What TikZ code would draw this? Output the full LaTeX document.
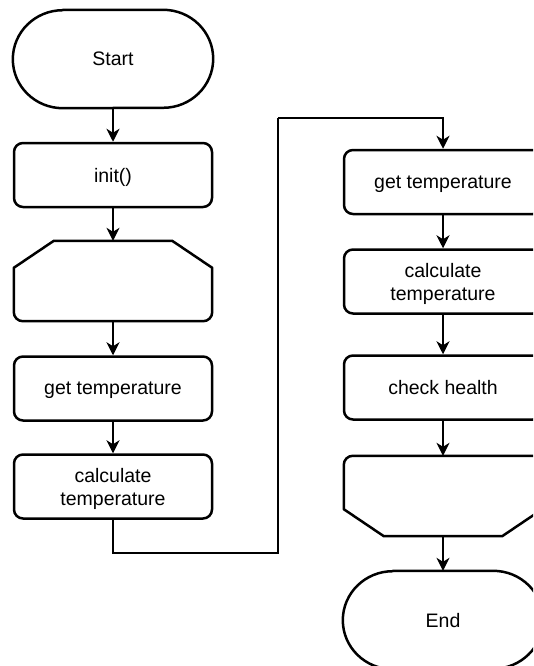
\documentclass[tikz,border=0pt]{standalone}
\usepackage{fontspec}
\setmainfont{Liberation Sans}
\usetikzlibrary{arrows.meta}
\begin{document}
\begin{tikzpicture}[x=1pt,y=-1pt,
  every node/.style={font=\fontsize{19.5}{23}\selectfont, align=center, inner sep=0pt, text depth=0pt},
  proc/.style={draw, line width=2.5pt, rounded corners=9pt, minimum width=198pt, minimum height=64pt},
  framebox/.style={minimum width=198pt, minimum height=80pt},
  termbox/.style={minimum width=200pt, minimum height=98pt},
  outline/.style={line width=2.5pt, line join=round},
  flow/.style={line width=1.4pt, -{Stealth[length=13pt,width=13pt,inset=4pt]}},
]
\useasboundingbox (0,0) rectangle (533,666);
\clip (0,0) rectangle (533,666);

% ---- left column ----
\node[termbox] (start) at (113,59) {Start};
\node[proc] (init) at (113,175) {init()};
\node[framebox] (loopA) at (113,281) {};
\node[proc] (getL) at (113,388.5) {get temperature};
\node[proc] (calcL) at (113,486.5) {calculate\\temperature};

% ---- right column ----
\node[proc] (getR) at (443,182) {get temperature};
\node[proc] (calcR) at (443,281.5) {calculate\\temperature};
\node[proc] (health) at (443,387.5) {check health};
\node[framebox] (loopB) at (443,496) {};
\node[termbox] (stop) at (443,620) {End};

% terminator outlines
\foreach \t in {start,stop}{
  \draw[outline] ([xshift=50pt]\t.north west) -- ([xshift=-50pt]\t.north east)
    arc[start angle=90,end angle=-90,x radius=50pt,y radius=49pt]
    -- ([xshift=50pt]\t.south west)
    arc[start angle=270,end angle=90,x radius=50pt,y radius=49pt] -- cycle;
}

% loop limit (opening): cut top corners, rounded bottom corners
\draw[outline] ([yshift=-27pt]loopA.north west) -- ([xshift=40pt]loopA.north west)
  -- ([xshift=-40pt]loopA.north east) -- ([yshift=-27pt]loopA.north east)
  -- ([yshift=9pt]loopA.south east) arc[start angle=0,end angle=-90,radius=9pt]
  -- ([xshift=9pt]loopA.south west) arc[start angle=270,end angle=180,radius=9pt] -- cycle;

% loop limit (closing): rounded top corners, cut bottom corners
\draw[outline] ([yshift=27pt]loopB.south west) -- ([yshift=-9pt]loopB.north west)
  arc[start angle=180,end angle=90,radius=9pt]
  -- ([xshift=-9pt]loopB.north east) arc[start angle=90,end angle=0,radius=9pt]
  -- ([yshift=27pt]loopB.south east) -- ([xshift=-40pt]loopB.south east)
  -- ([xshift=40pt]loopB.south west) -- cycle;

% connectors
\coordinate (turnA) at (278,553);
\coordinate (turnB) at (278,118);
\draw[flow] (start) -- (init);
\draw[flow] (init) -- (loopA);
\draw[flow] (loopA) -- (getL);
\draw[flow] (getL) -- (calcL);
\draw[line width=1.4pt] (calcL.south) |- (turnA) -- (turnB);
\draw[flow] (turnB) -| (getR.north);
\draw[flow] (getR) -- (calcR);
\draw[flow] (calcR) -- (health);
\draw[flow] (health) -- (loopB);
\draw[flow] (loopB) -- (stop);
\end{tikzpicture}
\end{document}
